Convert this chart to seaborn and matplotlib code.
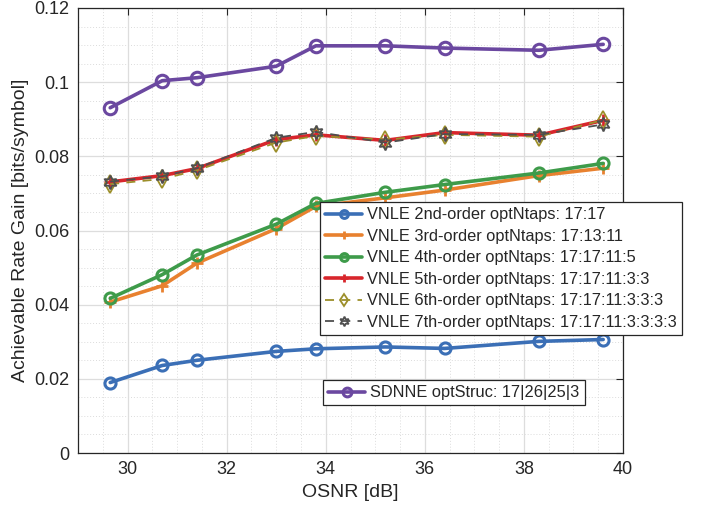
import numpy as np
import pandas as pd
import matplotlib
matplotlib.use("Agg")
import matplotlib.pyplot as plt
from matplotlib.ticker import MultipleLocator
import seaborn as sns

osnr = [29.65, 30.7, 31.4, 33.0, 33.8, 35.2, 36.4, 38.3, 39.6]

vnle2 = [0.0190, 0.0236, 0.0250, 0.0274, 0.0281, 0.0286, 0.0282, 0.0301, 0.0306]
vnle3 = [0.0407, 0.0451, 0.0512, 0.0605, 0.0665, 0.0688, 0.0709, 0.0748, 0.0768]
vnle4 = [0.0417, 0.0481, 0.0534, 0.0617, 0.0673, 0.0703, 0.0724, 0.0755, 0.0781]
vnle5 = [0.0731, 0.0748, 0.0767, 0.0845, 0.0858, 0.0843, 0.0864, 0.0857, 0.0897]
vnle6 = [0.0725, 0.0739, 0.0762, 0.0837, 0.0855, 0.0845, 0.0858, 0.0853, 0.0898]
vnle7 = [0.0732, 0.0746, 0.0768, 0.0850, 0.0866, 0.0837, 0.0860, 0.0858, 0.0886]
sdnne = [0.0931, 0.1004, 0.1012, 0.1043, 0.1098, 0.1098, 0.1092, 0.1086, 0.1102]

labels = [
    "VNLE 2nd-order optNtaps: 17:17",
    "VNLE 3rd-order optNtaps: 17:13:11",
    "VNLE 4th-order optNtaps: 17:17:11:5",
    "VNLE 5th-order optNtaps: 17:17:11:3:3",
    "VNLE 6th-order optNtaps: 17:17:11:3:3:3",
    "VNLE 7th-order optNtaps: 17:17:11:3:3:3:3",
    "SDNNE optStruc: 17|26|25|3",
]
xlabel = "OSNR [dB]"
ylabel = "Achievable Rate Gain [bits/symbol]"

sns.set_theme(style="white")
plt.rcParams["font.family"] = ["Liberation Sans", "DejaVu Sans"]

fig = plt.figure(figsize=(7.13, 5.13), dpi=100)
ax = fig.add_axes([78/713, 60/513, 545/713, 445/513])

series = [vnle2, vnle3, vnle4, vnle5, vnle6, vnle7, sdnne]
colors = ["#3B6FB6", "#E8812F", "#3E9B4A", "#D8262C", "#9C8F2A", "#4F4F4F", "#6B48A0"]
styles = [
    dict(marker="o", lw=2.6, ls="-", ms=8, mfc="none", mew=2.2),
    dict(marker="+", lw=2.6, ls="-", ms=8, mew=2.0),
    dict(marker="o", lw=2.6, ls="-", ms=8, mfc="none", mew=2.2),
    dict(marker="+", lw=2.6, ls="-", ms=8, mew=2.0),
    dict(marker="d", lw=1.3, ls=(0, (5, 4)), ms=9, mfc="none", mew=1.3),
    dict(marker=(6, 1, 0), lw=1.3, ls=(0, (5, 4)), ms=10, mfc="none", mew=1.3),
    dict(marker="o", lw=2.6, ls="-", ms=9, mfc="none", mew=2.2),
]

handles = []
for vals, col, st, lab in zip(series, colors, styles, labels):
    df = pd.DataFrame({"osnr": osnr, "gain": vals})
    sns.lineplot(data=df, x="osnr", y="gain", ax=ax, color=col, label=lab,
                 marker=st["marker"], linewidth=st["lw"], linestyle=st["ls"],
                 markersize=st["ms"], markeredgewidth=st["mew"],
                 markerfacecolor=st.get("mfc", col), markeredgecolor=col,
                 legend=False)
    handles.append(ax.get_lines()[-1])

ax.set_xlim(29, 40)
ax.set_ylim(0, 0.12)
ax.xaxis.set_major_locator(MultipleLocator(2))
ax.xaxis.set_minor_locator(MultipleLocator(0.5))
ax.set_yticks([0, 0.02, 0.04, 0.06, 0.08, 0.1, 0.12])
ax.set_yticklabels(["0", "0.02", "0.04", "0.06", "0.08", "0.1", "0.12"])
ax.yaxis.set_minor_locator(MultipleLocator(0.005))

ax.grid(which="major", color="#DDDDDD", lw=0.9, ls="-")
ax.grid(which="minor", color="#DCDCDC", lw=0.7, ls=(0, (1, 2)))
ax.set_axisbelow(True)
for sp in ax.spines.values():
    sp.set_color("#262626")
    sp.set_linewidth(0.9)
ax.tick_params(which="major", direction="in", length=5, width=0.8, color="#262626",
               top=True, right=True, labelsize=13, labelcolor="#262626", pad=6)
ax.tick_params(which="minor", length=0, top=True, right=True)
ax.set_xlabel(xlabel, fontsize=14, color="#262626", labelpad=4)
ax.set_ylabel(ylabel, fontsize=14, color="#262626", labelpad=4)

leg_kw = dict(loc="upper left", fontsize=11.8, frameon=True, fancybox=False,
              edgecolor="#262626", framealpha=1, handlelength=2.26,
              handletextpad=0.3, borderpad=0.32, borderaxespad=0, markerscale=0.7)
leg1 = fig.legend(handles[:6], labels[:6], bbox_to_anchor=(320/713, 1 - 202/513),
                  labelspacing=0.40, **leg_kw)
leg1.get_frame().set_linewidth(0.9)
leg2 = fig.legend([handles[6]], [labels[6]], bbox_to_anchor=(323/713, 1 - 380/513),
                  **leg_kw)
leg2.get_frame().set_linewidth(0.9)

fig.savefig("out.png", dpi=100)
